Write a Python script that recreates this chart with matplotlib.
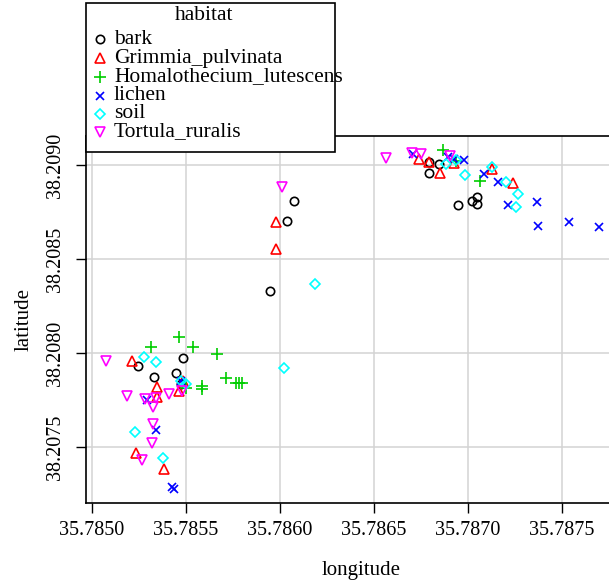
import matplotlib
matplotlib.use("Agg")
from matplotlib import pyplot as plt
from matplotlib.lines import Line2D
from matplotlib.patches import Rectangle
import numpy as np

plt.rcParams["font.family"] = ["Liberation Serif", "DejaVu Serif"]

habitats = ["bark", "Grimmia_pulvinata", "Homalothecium_lutescens", "lichen", "soil", "Tortula_ruralis"]
colors = ["#000000", "#FF0000", "#00CD00", "#0000FF", "#00FFFF", "#FF00FF"]
markers = ["o", "^", "+", "x", "D", "v"]
msizes = [6.0, 7.0, 8.0, 5.8, 5.6, 7.0]

bark_lon = [35.785245, 35.785330, 35.785447, 35.785484, 35.785473, 35.786074, 35.786037, 35.785947,
            35.786793, 35.786846, 35.786793, 35.786947, 35.787021, 35.787048, 35.787048]
bark_lat = [38.207931, 38.207872, 38.207894, 38.207973, 38.207835, 38.208809, 38.208702, 38.208330,
            38.209016, 38.209005, 38.208957, 38.208787, 38.208809, 38.208830, 38.208793]

grim_lon = [35.785213, 35.785346, 35.785346, 35.785463, 35.785484, 35.785234, 35.785383, 35.785979,
            35.785979, 35.786739, 35.786793, 35.786851, 35.786926, 35.787128, 35.787239]
grim_lat = [38.207957, 38.207819, 38.207766, 38.207798, 38.207851, 38.207468, 38.207383, 38.208697,
            38.208553, 38.209032, 38.209016, 38.208957, 38.209011, 38.208979, 38.208904]

homa_lon = [35.785314, 35.785463, 35.785537, 35.785665, 35.785713, 35.785585, 35.785585, 35.785500,
            35.785766, 35.785782, 35.785798, 35.786867, 35.786936, 35.787064]
homa_lat = [38.208032, 38.208085, 38.208032, 38.207995, 38.207867, 38.207824, 38.207809, 38.207814,
            38.207840, 38.207840, 38.207840, 38.209080, 38.209021, 38.208915]

lich_lon = [35.785293, 35.785340, 35.785426, 35.785436, 35.785473, 35.786707, 35.786894, 35.786926,
            35.786979, 35.787085, 35.787160, 35.787213, 35.787367, 35.787372, 35.787537, 35.787697]
lich_lat = [38.207750, 38.207590, 38.207287, 38.207277, 38.207851, 38.209059, 38.209043, 38.209032,
            38.209027, 38.208952, 38.208910, 38.208787, 38.208803, 38.208676, 38.208697, 38.208670]

soil_lon = [35.785277, 35.785340, 35.785229, 35.785378, 35.785473, 35.785500, 35.786186, 35.786021,
            35.786883, 35.786936, 35.786984, 35.787128, 35.787202, 35.787266, 35.787255]
soil_lat = [38.207979, 38.207952, 38.207580, 38.207441, 38.207851, 38.207835, 38.208367, 38.207920,
            38.209005, 38.209027, 38.208947, 38.208989, 38.208910, 38.208846, 38.208777]

tort_lon = [35.785074, 35.785186, 35.785282, 35.785324, 35.785324, 35.785319, 35.785266, 35.785410,
            35.785479, 35.785340, 35.786011, 35.786564, 35.786702, 35.786750, 35.786904]
tort_lat = [38.207957, 38.207771, 38.207755, 38.207713, 38.207622, 38.207521, 38.207431, 38.207782,
            38.207798, 38.207761, 38.208883, 38.209037, 38.209064, 38.209059, 38.209048]

lons = [bark_lon, grim_lon, homa_lon, lich_lon, soil_lon, tort_lon]
lats = [bark_lat, grim_lat, homa_lat, lich_lat, soil_lat, tort_lat]

xticks = [35.7850, 35.7855, 35.7860, 35.7865, 35.7870, 35.7875]
yticks = [38.2075, 38.2080, 38.2085, 38.2090]

W, H = 609, 585
fig = plt.figure(figsize=(W / 100, H / 100), dpi=100)
# plot box in pixels: left 86, right ~636 (runs off the image), top 136, bottom 503
ax = fig.add_axes([86 / W, (H - 503) / H, (636 - 86) / W, (503 - 136) / H])

for lo, la, c, m, s in zip(lons, lats, colors, markers, msizes):
    ax.plot(lo, la, linestyle="none", marker=m, markersize=s, markerfacecolor="none",
            markeredgecolor=c, markeredgewidth=1.2, zorder=3)

ax.set_xlim(35.784968, 35.787894)
ax.set_ylim(38.207202, 38.209154)
ax.set_xticks(xticks)
ax.set_yticks(yticks)
ax.set_xticklabels(["%.4f" % v for v in xticks])
ax.set_yticklabels(["%.4f" % v for v in yticks], rotation=90, va="center")
ax.grid(True, color="#D3D3D3", linewidth=1.1, zorder=0)
ax.set_axisbelow(True)
for sp in ax.spines.values():
    sp.set_linewidth(1.2)
ax.tick_params(axis="both", direction="out", length=7, width=1.0, labelsize=14.5)
ax.tick_params(axis="x", pad=6)
ax.tick_params(axis="y", pad=8)
ax.set_xlabel("longitude", fontsize=15, labelpad=15)
ax.set_ylabel("latitude", fontsize=15, labelpad=9)

# legend box drawn by hand so the long label can run over the border like in the original
def fx(px):
    return px / W

def fy(py):
    return (H - py) / H

fig.add_artist(Rectangle((fx(86), fy(152)), fx(335) - fx(86), fy(3) - fy(152),
                         transform=fig.transFigure, facecolor="white", edgecolor="black",
                         linewidth=1.2, zorder=5))
fig.text(fx(204), fy(16), "habitat", ha="center", va="center", fontsize=15.5, zorder=6)
rows = [39, 58, 77, 96, 114, 132]
for name, c, m, s, py in zip(habitats, colors, markers, msizes, rows):
    fig.add_artist(Line2D([fx(100)], [fy(py)], transform=fig.transFigure, linestyle="none",
                          marker=m, markersize=s, markerfacecolor="none", markeredgecolor=c,
                          markeredgewidth=1.2, zorder=6))
    fig.text(fx(114), fy(py), name, ha="left", va="center", fontsize=15.5, zorder=6)

fig.savefig("out.png", dpi=100)
